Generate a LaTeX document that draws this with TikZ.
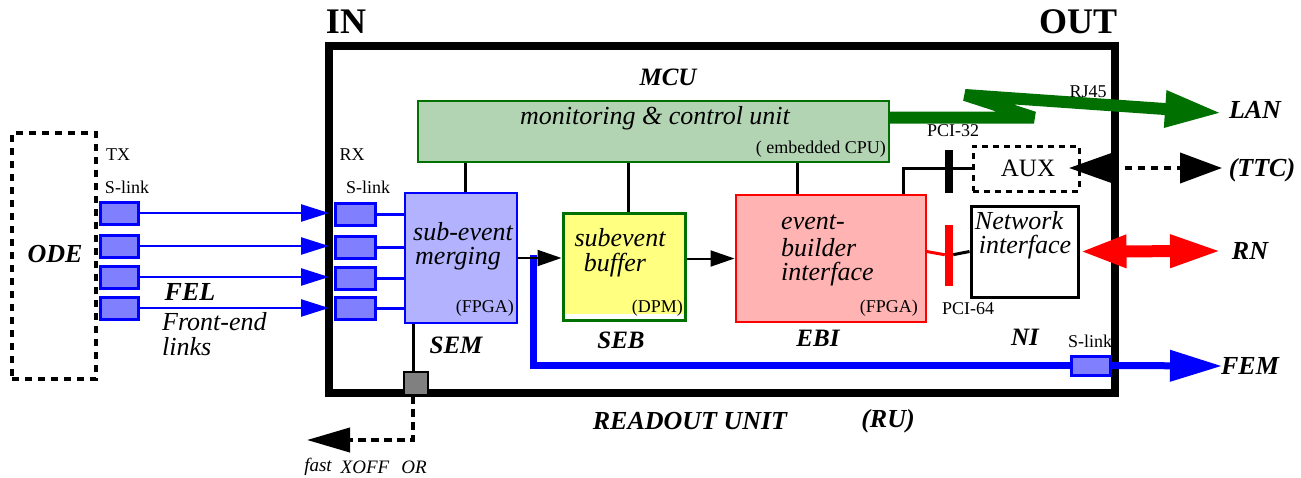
\documentclass[tikz,border=0pt]{standalone}
\usepackage{fontspec}
\setmainfont{Liberation Serif}
\usetikzlibrary{arrows.meta}

\definecolor{slinkfill}{RGB}{128,128,255}
\definecolor{semfill}{RGB}{178,178,255}
\definecolor{mcufill}{RGB}{179,212,179}
\definecolor{darkgrn}{RGB}{0,112,0}
\definecolor{sebfill}{RGB}{255,255,128}
\definecolor{ebifill}{RGB}{255,179,179}
\definecolor{xoffgrey}{RGB}{128,128,128}

\tikzset{
  slink/.style={draw=blue, line width=3, fill=slinkfill, minimum width=38, minimum height=22, inner sep=0, outer sep=0},
  big/.style={inner sep=0, font=\fontsize{26}{26}\selectfont\bfseries\itshape},
  ital/.style={inner sep=0, font=\fontsize{26}{26}\selectfont\itshape},
  small/.style={inner sep=0, font=\fontsize{18}{18}\selectfont},
  tiny/.style={inner sep=0, font=\fontsize{19}{19}\selectfont\itshape},
  dotline/.style={line width=4, dash pattern=on 7pt off 6pt},
  bluearrow/.style={blue, line width=2.5, -{Triangle[length=28pt,width=17pt]}},
  blackarrow/.style={black, line width=2, -{Triangle[length=24pt,width=16pt]}},
  wire/.style={black, line width=3}
}

\begin{document}
\begin{tikzpicture}[x=1pt,y=-1pt]
\useasboundingbox (0,0) rectangle (1301,477);

% readout unit frame
\node[draw, line width=8, minimum width=786, minimum height=347, inner sep=0, outer sep=0] (ru) at (722,219.5) {};
\node[inner sep=0, font=\fontsize{36}{36}\selectfont\bfseries] (in) at (346,22) {IN};
\node[inner sep=0, font=\fontsize{36}{36}\selectfont\bfseries] (out) at (1078,22) {OUT};

% front-end side
\node[draw, dotline, minimum width=84, minimum height=246, inner sep=0] (ode) at (54,256) {};
\node[big] (odelbl) at (55,254) {ODE};
\node[small] (tx) at (118,155) {TX};
\node[small] (txsl) at (127,187) {S-link};
\node[small] (rx) at (352,155) {RX};
\node[small] (rxsl) at (368,187) {S-link};

\node[slink] (tx1) at (119,213) {};
\node[slink] (tx2) at (119,246) {};
\node[slink] (tx3) at (119,277) {};
\node[slink] (tx4) at (119,308) {};
\node[slink, minimum width=40] (rx1) at (355,214) {};
\node[slink, minimum width=40] (rx2) at (355,247) {};
\node[slink, minimum width=40] (rx3) at (355,278) {};
\node[slink, minimum width=40] (rx4) at (355,308) {};

\foreach \i in {1,...,4}{
  \draw[bluearrow] (tx\i.east) -- (tx\i.east -| ru.west);
}

\node[big] (fel) at (190,292) {FEL};
\node[ital, anchor=west] (fe1) at (162,322) {Front-end};
\node[ital, anchor=west] (fe2) at (162,347) {links};

% monitoring and control unit
\node[draw=darkgrn, line width=2, fill=mcufill, minimum width=471, minimum height=61, inner sep=0] (mcu) at (653.5,131.5) {};
\node[big, font=\fontsize{25}{25}\selectfont\bfseries\itshape] (mculbl) at (668,77) {MCU};
\node[ital] (mcutxt) at (655,118) {monitoring \& control unit};
\node[small, anchor=east] (cpu) at (886,149) {( embedded CPU)};

% sub-event merging
\node[draw=blue, line width=2, fill=semfill, minimum width=112, minimum height=130, inner sep=0] (sem) at (461,258) {};
\node[ital, anchor=west] (sem1) at (413,232) {sub-event};
\node[ital, anchor=west] (sem2) at (415,259) {merging};
\node[small, anchor=east] (semf) at (514,308) {(FPGA)};
\node[big, font=\fontsize{25}{25}\selectfont\bfseries\itshape] (semlbl) at (456,345) {SEM};

\foreach \i in {1,...,4}{
  \draw[blue, line width=3] (rx\i.east) -- (rx\i.east -| sem.west);
}

% subevent buffer
\node[draw=darkgrn, line width=3, fill=sebfill, minimum width=122, minimum height=107, inner sep=0] (seb) at (624,266.5) {};
\fill[white] (565,314) rectangle (683,318.5);
\node[ital] (seb1) at (620,238) {subevent};
\node[ital] (seb2) at (615,265) {buffer};
\node[small, anchor=east] (dpm) at (683,308) {(DPM)};
\node[big, font=\fontsize{25}{25}\selectfont\bfseries\itshape] (seblbl) at (621,340) {SEB};

% event-builder interface
\node[draw=red, line width=2, fill=ebifill, minimum width=190, minimum height=127, inner sep=0] (ebi) at (830.5,258.5) {};
\node[ital, anchor=west] (ebi1) at (781,222) {event-};
\node[ital, anchor=west] (ebi2) at (781,248) {builder};
\node[ital, anchor=west] (ebi3) at (781,274) {interface};
\node[small, anchor=east] (ebif) at (918,308) {(FPGA)};
\node[big, font=\fontsize{25}{25}\selectfont\bfseries\itshape] (ebilbl) at (818,338) {EBI};

% control links from the MCU
\draw[wire] (mcu.south -| 465,0) -- (sem.north -| 465,0);
\draw[wire] (mcu.south -| 628,0) -- (seb.north -| 628,0);
\draw[wire] (mcu.south -| 797,0) -- (ebi.north -| 797,0);

% output data path to FEM
\node[slink, minimum width=39, minimum height=19] (slout) at (1090.5,365.5) {};
\node[small] (sloutlbl) at (1090,341) {S-link};
\coordinate (bluetop) at (533,255);
\coordinate (femtip) at (1222,366);
\draw[blue, line width=7] (bluetop) |- (slout.west);
\draw[blue, line width=7, -{Triangle[length=52pt,width=30pt]}] (slout.east) -- (femtip);
\node[big] (fem) at (1250,366) {FEM};
\node[big, font=\fontsize{25}{25}\selectfont\bfseries\itshape] (nilbl) at (1025,337) {NI};

% data flow arrows
\draw[blackarrow] (sem.east) -- (sem.east -| seb.west);
\draw[blackarrow] (ebi.west -| seb.east) -- (ebi.west);

% PCI buses
\node[fill=black, minimum width=8, minimum height=43, inner sep=0] (pci32) at (949,171.5) {};
\node[small] (pci32lbl) at (953,131) {PCI-32};
\node[fill=red, minimum width=8, minimum height=61, inner sep=0] (pci64) at (949,255.5) {};
\node[small] (pci64lbl) at (968,309) {PCI-64};

% auxiliary and network interface
\node[draw, line width=3, dash pattern=on 6pt off 5pt, minimum width=106, minimum height=45, inner sep=0] (aux) at (1026,168.5) {};
\node[inner sep=0, font=\fontsize{25}{25}\selectfont] (auxlbl) at (1028,168) {AUX};
\node[draw, line width=3, minimum width=107, minimum height=91, inner sep=0] (ni) at (1024.5,251.5) {};
\node[ital] (ni1) at (1019,221) {Network};
\node[ital] (ni2) at (1025,247) {interface};

\draw[wire] ([xshift=73pt]ebi.north) |- (aux.west);
\draw[red, line width=3] (ni.west -| ebi.east) -- (pci64);
\draw[wire] (pci64) -- (ni.west);

% links to the outside
\coordinate (ttcl) at (1069,168);
\coordinate (ttcr) at (1222,168);
\draw[dotline, {Triangle[length=44pt,width=30pt]}-{Triangle[length=42pt,width=30pt]}] (ttcl) -- (ttcr);
\node[big] (ttc) at (1262,170) {(TTC)};

\coordinate (rntip) at (1222,251);
\draw[red, line width=12, {Triangle[length=47pt,width=30pt]}-{Triangle[length=52pt,width=30pt]}] (ni.east) -- (rntip);
\node[big] (rn) at (1250,251) {RN};

\coordinate (lantip) at (1222,113);
\draw[darkgrn, line width=12, line join=bevel, -{Triangle[length=57pt,width=34pt]}]
  ([yshift=14pt]mcu.east) -- (1034,117.5) -- (965,95) -- (lantip);
\node[small] (rj45) at (1088,92) {RJ45};
\node[big] (lan) at (1255,110) {LAN};

% fast XOFF output
\node[fill=xoffgrey, draw, line width=1.5, minimum width=24, minimum height=23, inner sep=0] (xoff) at (416,383.5) {};
\draw[wire] (sem.south -| 413,0) -- (xoff.north -| 413,0);
\coordinate (xofftip) at (307,440);
\draw[dotline, dash pattern=on 8pt off 5pt, -{Triangle[length=43pt,width=24pt]}] (xoff.south -| 413,0) |- (xofftip);
\node[tiny] (fast) at (318,467) {fast};
\node[tiny] (xofflbl) at (365,467) {XOFF};
\node[tiny] (orlbl) at (414,467) {OR};

% unit name
\node[big] (rulbl) at (690,421) {READOUT UNIT};
\node[big] (rulbl2) at (888,421) {(RU)};
\end{tikzpicture}
\end{document}
